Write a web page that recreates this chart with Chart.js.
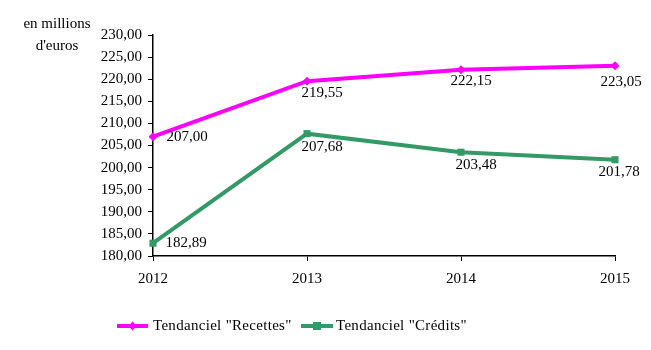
<!DOCTYPE html>
<html><head><meta charset="utf-8">
<script src="https://cdn.jsdelivr.net/npm/chart.js@4"></script>
<style>html,body{margin:0;padding:0;background:#fff}#wrap{width:651px;height:350px}</style>
</head><body><div id="wrap"><canvas id="c" width="651" height="350"></canvas></div>
<script>
const years = ['2012', '2013', '2014', '2015'];
const recettes = [207.00, 219.55, 222.15, 223.05];
const credits = [182.89, 207.68, 203.48, 201.78];
const seriesNames = ['Tendanciel "Recettes"', 'Tendanciel "Crédits"'];
const axisTitle = ['en millions', "d'euros"];

const FONT = '15px "Liberation Serif", "Times New Roman", serif';
const fmt = v => v.toFixed(2).replace('.', ',');

const labelOffsets = [
  [[34, 0], [15, 12], [10, 11], [6, 16]],
  [[33, 0], [15, 13], [15, 13], [4, 12]]
];

const labelsPlugin = {
  id: 'labelsPlugin',
  afterDatasetsDraw(chart) {
    const ctx = chart.ctx;
    ctx.save();
    ctx.font = FONT;
    ctx.fillStyle = '#000';
    ctx.textAlign = 'center';
    ctx.textBaseline = 'middle';
    chart.data.datasets.forEach((ds, di) => {
      chart.getDatasetMeta(di).data.forEach((pt, i) => {
        const o = labelOffsets[di][i];
        ctx.fillText(fmt(ds.data[i]), pt.x + o[0], pt.y + o[1]);
      });
    });
    // axis title
    ctx.textBaseline = 'alphabetic';
    ctx.fillText(axisTitle[0], 57, 28);
    ctx.fillText(axisTitle[1], 57, 50);
    // legend
    const items = [
      {x0: 117, x1: 148, tx: 153, color: '#FF00FF', style: 'diamond'},
      {x0: 301, x1: 333, tx: 336, color: '#339966', style: 'square'}
    ];
    const ly = 326;
    items.forEach((it, k) => {
      ctx.strokeStyle = it.color;
      ctx.lineWidth = 4;
      ctx.beginPath(); ctx.moveTo(it.x0, ly); ctx.lineTo(it.x1, ly); ctx.stroke();
      ctx.fillStyle = it.color;
      const cx = (it.x0 + it.x1) / 2;
      if (it.style === 'diamond') {
        ctx.beginPath(); ctx.moveTo(cx, ly - 4.5); ctx.lineTo(cx + 4, ly); ctx.lineTo(cx, ly + 4.5); ctx.lineTo(cx - 4, ly); ctx.closePath(); ctx.fill();
      } else {
        ctx.fillRect(cx - 4, ly - 4, 8, 8);
      }
      ctx.fillStyle = '#000';
      ctx.textAlign = 'left';
      ctx.textBaseline = 'middle';
      ctx.letterSpacing = '0.3px';
      ctx.fillText(seriesNames[k], it.tx, ly);
      ctx.letterSpacing = '0px';
    });
    ctx.restore();
  }
};

new Chart(document.getElementById('c'), {
  type: 'line',
  data: {
    labels: years,
    datasets: [
      {label: seriesNames[0], data: recettes, borderColor: '#FF00FF', backgroundColor: '#FF00FF',
       borderWidth: 4, pointStyle: 'rectRot', pointRadius: 4.5, pointBorderWidth: 0, tension: 0},
      {label: seriesNames[1], data: credits, borderColor: '#339966', backgroundColor: '#339966',
       borderWidth: 4, pointStyle: 'rect', pointRadius: 5, pointBorderWidth: 0, tension: 0}
    ]
  },
  options: {
    responsive: false,
    animation: false,
    devicePixelRatio: 1,
    layout: {padding: {left: 0, right: 36, top: 35, bottom: 0}},
    plugins: {legend: {display: false}, tooltip: {enabled: false}},
    scales: {
      x: {
        offset: false,
        grid: {drawOnChartArea: false, drawTicks: true, tickLength: 5, color: '#000', lineWidth: 1},
        border: {color: '#000', width: 1.5},
        ticks: {color: '#000', font: {family: '"Liberation Serif", serif', size: 15}, padding: 9, maxRotation: 0},
        afterFit: s => { s.height = 94; }
      },
      y: {
        min: 180, max: 230,
        grid: {drawOnChartArea: false, drawTicks: true, tickLength: 5, color: '#000', lineWidth: 1},
        border: {color: '#000', width: 1.5},
        ticks: {stepSize: 5, color: '#000', font: {family: '"Liberation Serif", serif', size: 15}, padding: 6,
                callback: v => fmt(v)},
        afterFit: s => { s.width = 153; }
      }
    }
  },
  plugins: [labelsPlugin]
});
</script>
</body></html>
